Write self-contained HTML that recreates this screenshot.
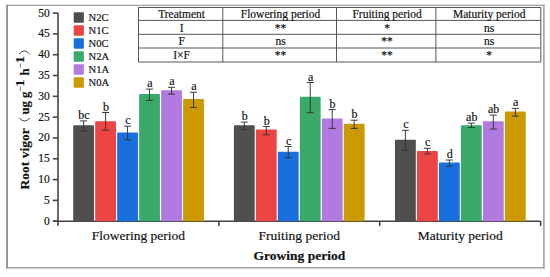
<!DOCTYPE html><html><head><meta charset="utf-8"><style>html,body{margin:0;padding:0;background:#fff;width:550px;height:277px;overflow:hidden}svg{display:block}text{font-family:"Liberation Serif",serif;fill:#111;stroke:#111;stroke-width:0.18px}</style></head><body><svg width="550" height="277" viewBox="0 0 550 277"><rect x="0" y="0" width="550" height="277" fill="#fff"/><line x1="6.2" y1="5.4" x2="544.6" y2="5.4" stroke="#a0a0a0" stroke-width="1.2"/><line x1="7.1" y1="4.8" x2="7.1" y2="268.6" stroke="#909090" stroke-width="1.8"/><line x1="543.9" y1="4.8" x2="543.9" y2="268.6" stroke="#a0a0a0" stroke-width="1.6"/><line x1="6.2" y1="267.7" x2="544.6" y2="267.7" stroke="#a0a0a0" stroke-width="1.5"/><line x1="138.5" y1="7.5" x2="138.5" y2="62.0" stroke="#555" stroke-width="1"/><line x1="222.8" y1="7.5" x2="222.8" y2="62.0" stroke="#555" stroke-width="1"/><line x1="336.5" y1="7.5" x2="336.5" y2="62.0" stroke="#555" stroke-width="1"/><line x1="435.9" y1="7.5" x2="435.9" y2="62.0" stroke="#555" stroke-width="1"/><line x1="540.8" y1="7.5" x2="540.8" y2="62.0" stroke="#555" stroke-width="1"/><line x1="138.5" y1="7.5" x2="540.8" y2="7.5" stroke="#555" stroke-width="1"/><line x1="138.5" y1="20.4" x2="540.8" y2="20.4" stroke="#555" stroke-width="1"/><line x1="138.5" y1="34.3" x2="540.8" y2="34.3" stroke="#555" stroke-width="1"/><line x1="138.5" y1="48.0" x2="540.8" y2="48.0" stroke="#555" stroke-width="1"/><line x1="138.5" y1="62.0" x2="540.8" y2="62.0" stroke="#555" stroke-width="1"/><text x="181.6" y="18.2" font-size="11.5" text-anchor="middle">Treatment</text><text x="280.5" y="18.2" font-size="11.5" text-anchor="middle">Flowering period</text><text x="387.1" y="18.2" font-size="11.5" text-anchor="middle">Fruiting period</text><text x="489.2" y="18.2" font-size="11.5" text-anchor="middle">Maturity period</text><text x="181.6" y="31.6" font-size="11.5" text-anchor="middle">I</text><text x="280.5" y="31.6" font-size="11.5" text-anchor="middle">**</text><text x="387.1" y="31.6" font-size="11.5" text-anchor="middle">*</text><text x="489.2" y="31.6" font-size="11.5" text-anchor="middle">ns</text><text x="181.6" y="45.4" font-size="11.5" text-anchor="middle">F</text><text x="280.5" y="45.4" font-size="11.5" text-anchor="middle">ns</text><text x="387.1" y="45.4" font-size="11.5" text-anchor="middle">**</text><text x="489.2" y="45.4" font-size="11.5" text-anchor="middle">ns</text><text x="181.6" y="59.3" font-size="11.5" text-anchor="middle">I×F</text><text x="280.5" y="59.3" font-size="11.5" text-anchor="middle">**</text><text x="387.1" y="59.3" font-size="11.5" text-anchor="middle">**</text><text x="489.2" y="59.3" font-size="11.5" text-anchor="middle">*</text><line x1="58" y1="13.1" x2="58" y2="225.8" stroke="#444" stroke-width="1.6"/><line x1="53" y1="221.2" x2="540.6" y2="221.2" stroke="#444" stroke-width="1.6"/><line x1="52.8" y1="221.20" x2="58" y2="221.20" stroke="#444" stroke-width="1.6"/><text x="49.8" y="224.60" font-size="11.5" text-anchor="end">0</text><line x1="52.8" y1="200.39" x2="58" y2="200.39" stroke="#444" stroke-width="1.6"/><text x="49.8" y="203.79" font-size="11.5" text-anchor="end">5</text><line x1="52.8" y1="179.58" x2="58" y2="179.58" stroke="#444" stroke-width="1.6"/><text x="49.8" y="182.98" font-size="11.5" text-anchor="end">10</text><line x1="52.8" y1="158.77" x2="58" y2="158.77" stroke="#444" stroke-width="1.6"/><text x="49.8" y="162.17" font-size="11.5" text-anchor="end">15</text><line x1="52.8" y1="137.96" x2="58" y2="137.96" stroke="#444" stroke-width="1.6"/><text x="49.8" y="141.36" font-size="11.5" text-anchor="end">20</text><line x1="52.8" y1="117.15" x2="58" y2="117.15" stroke="#444" stroke-width="1.6"/><text x="49.8" y="120.55" font-size="11.5" text-anchor="end">25</text><line x1="52.8" y1="96.34" x2="58" y2="96.34" stroke="#444" stroke-width="1.6"/><text x="49.8" y="99.74" font-size="11.5" text-anchor="end">30</text><line x1="52.8" y1="75.53" x2="58" y2="75.53" stroke="#444" stroke-width="1.6"/><text x="49.8" y="78.93" font-size="11.5" text-anchor="end">35</text><line x1="52.8" y1="54.72" x2="58" y2="54.72" stroke="#444" stroke-width="1.6"/><text x="49.8" y="58.12" font-size="11.5" text-anchor="end">40</text><line x1="52.8" y1="33.91" x2="58" y2="33.91" stroke="#444" stroke-width="1.6"/><text x="49.8" y="37.31" font-size="11.5" text-anchor="end">45</text><line x1="52.8" y1="13.10" x2="58" y2="13.10" stroke="#444" stroke-width="1.6"/><text x="49.8" y="16.50" font-size="11.5" text-anchor="end">50</text><line x1="218.9" y1="221.2" x2="218.9" y2="226" stroke="#444" stroke-width="1.6"/><line x1="379.7" y1="221.2" x2="379.7" y2="226" stroke="#444" stroke-width="1.6"/><line x1="540.6" y1="221.2" x2="540.6" y2="226" stroke="#444" stroke-width="1.6"/><rect x="73.20" y="125.3" width="20.8" height="95.90" fill="#4f4f4f" rx="0.8"/><rect x="95.18" y="121.2" width="20.8" height="100.00" fill="#ee4444" rx="0.8"/><rect x="117.16" y="132.4" width="20.8" height="88.80" fill="#1a6fdf" rx="0.8"/><rect x="139.14" y="93.9" width="20.8" height="127.30" fill="#3aaa6a" rx="0.8"/><rect x="161.12" y="90.3" width="20.8" height="130.90" fill="#b07ae0" rx="0.8"/><rect x="183.10" y="99.0" width="20.8" height="122.20" fill="#cc9900" rx="0.8"/><rect x="233.90" y="125.2" width="20.8" height="96.00" fill="#4f4f4f" rx="0.8"/><rect x="255.88" y="129.6" width="20.8" height="91.60" fill="#ee4444" rx="0.8"/><rect x="277.86" y="151.8" width="20.8" height="69.40" fill="#1a6fdf" rx="0.8"/><rect x="299.84" y="96.8" width="20.8" height="124.40" fill="#3aaa6a" rx="0.8"/><rect x="321.82" y="118.6" width="20.8" height="102.60" fill="#b07ae0" rx="0.8"/><rect x="343.80" y="123.8" width="20.8" height="97.40" fill="#cc9900" rx="0.8"/><rect x="395.00" y="139.8" width="20.8" height="81.40" fill="#4f4f4f" rx="0.8"/><rect x="416.98" y="150.9" width="20.8" height="70.30" fill="#ee4444" rx="0.8"/><rect x="438.96" y="162.6" width="20.8" height="58.60" fill="#1a6fdf" rx="0.8"/><rect x="460.94" y="125.3" width="20.8" height="95.90" fill="#3aaa6a" rx="0.8"/><rect x="482.92" y="121.3" width="20.8" height="99.90" fill="#b07ae0" rx="0.8"/><rect x="504.90" y="111.4" width="20.8" height="109.80" fill="#cc9900" rx="0.8"/><line x1="83.60" y1="120.9" x2="83.60" y2="131.0" stroke="#333" stroke-width="0.95"/><line x1="80.10" y1="120.9" x2="87.10" y2="120.9" stroke="#333" stroke-width="0.95"/><line x1="80.10" y1="131.0" x2="87.10" y2="131.0" stroke="#333" stroke-width="0.95"/><text x="84.00" y="118.90" font-size="12" text-anchor="middle">bc</text><line x1="105.58" y1="112.5" x2="105.58" y2="130.2" stroke="#333" stroke-width="0.95"/><line x1="102.08" y1="112.5" x2="109.08" y2="112.5" stroke="#333" stroke-width="0.95"/><line x1="102.08" y1="130.2" x2="109.08" y2="130.2" stroke="#333" stroke-width="0.95"/><text x="105.98" y="110.50" font-size="12" text-anchor="middle">b</text><line x1="127.56" y1="126.2" x2="127.56" y2="139.8" stroke="#333" stroke-width="0.95"/><line x1="124.06" y1="126.2" x2="131.06" y2="126.2" stroke="#333" stroke-width="0.95"/><line x1="124.06" y1="139.8" x2="131.06" y2="139.8" stroke="#333" stroke-width="0.95"/><text x="127.96" y="124.20" font-size="12" text-anchor="middle">c</text><line x1="149.54" y1="89.1" x2="149.54" y2="100.4" stroke="#333" stroke-width="0.95"/><line x1="146.04" y1="89.1" x2="153.04" y2="89.1" stroke="#333" stroke-width="0.95"/><line x1="146.04" y1="100.4" x2="153.04" y2="100.4" stroke="#333" stroke-width="0.95"/><text x="149.94" y="87.10" font-size="12" text-anchor="middle">a</text><line x1="171.52" y1="87.3" x2="171.52" y2="94.1" stroke="#333" stroke-width="0.95"/><line x1="168.02" y1="87.3" x2="175.02" y2="87.3" stroke="#333" stroke-width="0.95"/><line x1="168.02" y1="94.1" x2="175.02" y2="94.1" stroke="#333" stroke-width="0.95"/><text x="171.92" y="85.30" font-size="12" text-anchor="middle">a</text><line x1="193.50" y1="92.3" x2="193.50" y2="107.5" stroke="#333" stroke-width="0.95"/><line x1="190.00" y1="92.3" x2="197.00" y2="92.3" stroke="#333" stroke-width="0.95"/><line x1="190.00" y1="107.5" x2="197.00" y2="107.5" stroke="#333" stroke-width="0.95"/><text x="193.90" y="90.30" font-size="12" text-anchor="middle">a</text><line x1="244.30" y1="122.1" x2="244.30" y2="129.3" stroke="#333" stroke-width="0.95"/><line x1="240.80" y1="122.1" x2="247.80" y2="122.1" stroke="#333" stroke-width="0.95"/><line x1="240.80" y1="129.3" x2="247.80" y2="129.3" stroke="#333" stroke-width="0.95"/><text x="244.70" y="120.10" font-size="12" text-anchor="middle">b</text><line x1="266.28" y1="126.5" x2="266.28" y2="134.7" stroke="#333" stroke-width="0.95"/><line x1="262.78" y1="126.5" x2="269.78" y2="126.5" stroke="#333" stroke-width="0.95"/><line x1="262.78" y1="134.7" x2="269.78" y2="134.7" stroke="#333" stroke-width="0.95"/><text x="266.68" y="124.50" font-size="12" text-anchor="middle">b</text><line x1="288.26" y1="146.5" x2="288.26" y2="157.6" stroke="#333" stroke-width="0.95"/><line x1="284.76" y1="146.5" x2="291.76" y2="146.5" stroke="#333" stroke-width="0.95"/><line x1="284.76" y1="157.6" x2="291.76" y2="157.6" stroke="#333" stroke-width="0.95"/><text x="288.66" y="144.50" font-size="12" text-anchor="middle">c</text><line x1="310.24" y1="82.5" x2="310.24" y2="112.7" stroke="#333" stroke-width="0.95"/><line x1="306.74" y1="82.5" x2="313.74" y2="82.5" stroke="#333" stroke-width="0.95"/><line x1="306.74" y1="112.7" x2="313.74" y2="112.7" stroke="#333" stroke-width="0.95"/><text x="310.64" y="80.50" font-size="12" text-anchor="middle">a</text><line x1="332.22" y1="109.6" x2="332.22" y2="128.4" stroke="#333" stroke-width="0.95"/><line x1="328.72" y1="109.6" x2="335.72" y2="109.6" stroke="#333" stroke-width="0.95"/><line x1="328.72" y1="128.4" x2="335.72" y2="128.4" stroke="#333" stroke-width="0.95"/><text x="332.62" y="107.60" font-size="12" text-anchor="middle">b</text><line x1="354.20" y1="120.2" x2="354.20" y2="128.4" stroke="#333" stroke-width="0.95"/><line x1="350.70" y1="120.2" x2="357.70" y2="120.2" stroke="#333" stroke-width="0.95"/><line x1="350.70" y1="128.4" x2="357.70" y2="128.4" stroke="#333" stroke-width="0.95"/><text x="354.60" y="118.20" font-size="12" text-anchor="middle">b</text><line x1="405.40" y1="130.3" x2="405.40" y2="150.3" stroke="#333" stroke-width="0.95"/><line x1="401.90" y1="130.3" x2="408.90" y2="130.3" stroke="#333" stroke-width="0.95"/><line x1="401.90" y1="150.3" x2="408.90" y2="150.3" stroke="#333" stroke-width="0.95"/><text x="405.80" y="128.30" font-size="12" text-anchor="middle">c</text><line x1="427.38" y1="148.3" x2="427.38" y2="153.9" stroke="#333" stroke-width="0.95"/><line x1="423.88" y1="148.3" x2="430.88" y2="148.3" stroke="#333" stroke-width="0.95"/><line x1="423.88" y1="153.9" x2="430.88" y2="153.9" stroke="#333" stroke-width="0.95"/><text x="427.78" y="146.30" font-size="12" text-anchor="middle">c</text><line x1="449.36" y1="160.0" x2="449.36" y2="166.2" stroke="#333" stroke-width="0.95"/><line x1="445.86" y1="160.0" x2="452.86" y2="160.0" stroke="#333" stroke-width="0.95"/><line x1="445.86" y1="166.2" x2="452.86" y2="166.2" stroke="#333" stroke-width="0.95"/><text x="449.76" y="158.00" font-size="12" text-anchor="middle">d</text><line x1="471.34" y1="123.1" x2="471.34" y2="127.6" stroke="#333" stroke-width="0.95"/><line x1="467.84" y1="123.1" x2="474.84" y2="123.1" stroke="#333" stroke-width="0.95"/><line x1="467.84" y1="127.6" x2="474.84" y2="127.6" stroke="#333" stroke-width="0.95"/><text x="471.74" y="121.10" font-size="12" text-anchor="middle">ab</text><line x1="493.32" y1="115.1" x2="493.32" y2="129.0" stroke="#333" stroke-width="0.95"/><line x1="489.82" y1="115.1" x2="496.82" y2="115.1" stroke="#333" stroke-width="0.95"/><line x1="489.82" y1="129.0" x2="496.82" y2="129.0" stroke="#333" stroke-width="0.95"/><text x="493.72" y="113.10" font-size="12" text-anchor="middle">ab</text><line x1="515.30" y1="108.4" x2="515.30" y2="116.1" stroke="#333" stroke-width="0.95"/><line x1="511.80" y1="108.4" x2="518.80" y2="108.4" stroke="#333" stroke-width="0.95"/><line x1="511.80" y1="116.1" x2="518.80" y2="116.1" stroke="#333" stroke-width="0.95"/><text x="515.70" y="106.40" font-size="12" text-anchor="middle">a</text><rect x="73.7" y="12.2" width="10.2" height="10.6" fill="#4f4f4f" rx="1"/><text x="88.5" y="20.9" font-size="10.6">N2C</text><rect x="73.7" y="25.2" width="10.2" height="10.6" fill="#ee4444" rx="1"/><text x="88.5" y="33.9" font-size="10.6">N1C</text><rect x="73.7" y="38.2" width="10.2" height="10.6" fill="#1a6fdf" rx="1"/><text x="88.5" y="46.9" font-size="10.6">N0C</text><rect x="73.7" y="51.2" width="10.2" height="10.6" fill="#3aaa6a" rx="1"/><text x="88.5" y="59.9" font-size="10.6">N2A</text><rect x="73.7" y="64.2" width="10.2" height="10.6" fill="#b07ae0" rx="1"/><text x="88.5" y="72.9" font-size="10.6">N1A</text><rect x="73.7" y="77.2" width="10.2" height="10.6" fill="#cc9900" rx="1"/><text x="88.5" y="85.9" font-size="10.6">N0A</text><text x="138.4" y="240.0" font-size="13.5" text-anchor="middle">Flowering period</text><text x="299.3" y="240.0" font-size="13.5" text-anchor="middle">Fruiting period</text><text x="460.2" y="240.0" font-size="13.5" text-anchor="middle">Maturity period</text><text x="299.4" y="260" font-size="13.5" font-weight="bold" text-anchor="middle">Growing period</text><g transform="translate(28.6,189.4) rotate(-90)"><text x="0" y="0" font-size="13.5" font-weight="bold">Root vigor</text><text x="74.8" y="0" font-size="12.8" font-weight="bold">ug g</text><text x="103.0" y="-5" font-size="13.5" font-weight="bold">1</text><text x="114" y="0" font-size="12.8" font-weight="bold">h</text><text x="126.4" y="-5" font-size="13.5" font-weight="bold">1</text></g><path d="M19.2,117.9 Q24.6,124.1 30,117.9" fill="none" stroke="#333" stroke-width="0.9"/><path d="M19.1,54.1 Q24.4,47.7 29.7,54.1" fill="none" stroke="#333" stroke-width="0.9"/><line x1="20.3" y1="86.5" x2="20.3" y2="91" stroke="#555" stroke-width="0.8"/><line x1="20.3" y1="63.7" x2="20.3" y2="67.8" stroke="#555" stroke-width="0.8"/></svg></body></html>
